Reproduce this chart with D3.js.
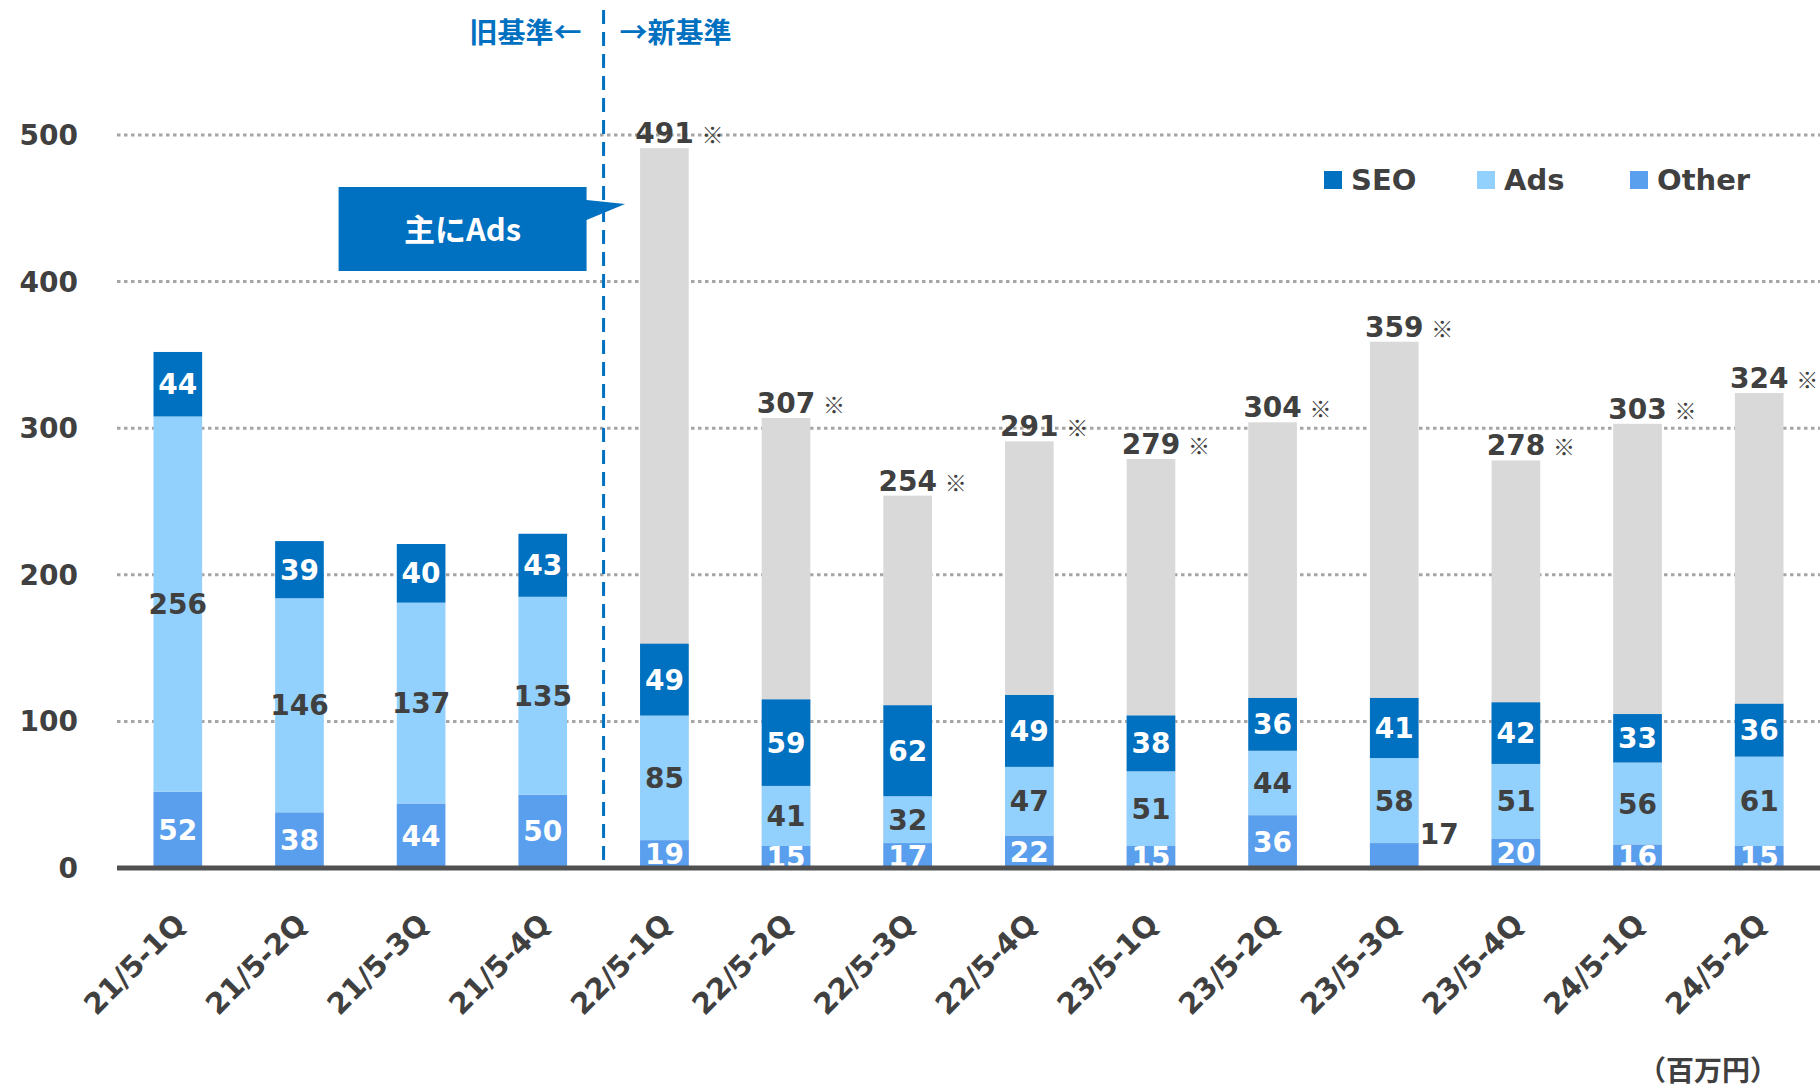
<!DOCTYPE html>
<html>
<head>
<meta charset="utf-8">
<script src="https://cdn.jsdelivr.net/npm/d3@7"></script>
<style>
  body { margin: 0; background: #fff; }
  svg { display: block; }
  .num { font-family: "DejaVu Sans", Verdana, sans-serif; font-weight: bold; }
  .cjk { font-family: "Noto Sans CJK JP", sans-serif; }
</style>
</head>
<body>
<svg id="chart" width="1820" height="1088"></svg>
<script>
// quarters
var categories = ["21/5-1Q", "21/5-2Q", "21/5-3Q", "21/5-4Q", "22/5-1Q", "22/5-2Q", "22/5-3Q",
                  "22/5-4Q", "23/5-1Q", "23/5-2Q", "23/5-3Q", "23/5-4Q", "24/5-1Q", "24/5-2Q"];

// values (百万円)
var otherVals = [52, 38, 44, 50, 19, 15, 17, 22, 15, 36, 17, 20, 16, 15];
var adsVals   = [256, 146, 137, 135, 85, 41, 32, 47, 51, 44, 58, 51, 56, 61];
var seoVals   = [44, 39, 40, 43, 49, 59, 62, 49, 38, 36, 41, 42, 33, 36];
// new basis totals, shown as the grey bar
var totalVals = [null, null, null, null, 491, 307, 254, 291, 279, 304, 359, 278, 303, 324];

var yTicks = [0, 100, 200, 300, 400, 500];
var seriesNames = ["SEO", "Ads", "Other"];

var colors = {SEO: "#0070C0", Ads: "#92D0FD", Other: "#5A9EEE"};
var textDark = "#404040";

var svg = d3.select("#chart");

var x = d3.scaleBand()
    .domain(categories)
    .range([117, 1820])
    .paddingInner(0.6)
    .paddingOuter(0.3);

var y = d3.scaleLinear()
    .domain([0, 500])
    .range([868, 135]);

var rows = categories.map(function(c, i) {
  return {cat: c, Other: otherVals[i], Ads: adsVals[i], SEO: seoVals[i], total: totalVals[i]};
});

var stacked = d3.stack().keys(["Other", "Ads", "SEO"])(rows);

// gridlines
svg.append("g")
  .selectAll("line")
  .data(yTicks.filter(function(d) { return d > 0; }))
  .enter().append("line")
    .attr("x1", 117)
    .attr("x2", 1820)
    .attr("y1", function(d) { return y(d); })
    .attr("y2", function(d) { return y(d); })
    .attr("stroke", "#a5a5a5")
    .attr("stroke-width", 3)
    .attr("stroke-dasharray", "3.5,3.5");

// y labels
svg.append("g")
  .selectAll("text")
  .data(yTicks)
  .enter().append("text")
    .attr("class", "num")
    .attr("x", 78)
    .attr("y", function(d) { return y(d); })
    .attr("dy", "0.36em")
    .attr("text-anchor", "end")
    .attr("font-size", 28)
    .attr("fill", textDark)
    .text(function(d) { return d; });

// grey total bars
svg.append("g")
  .selectAll("rect")
  .data(rows.filter(function(d) { return d.total != null; }))
  .enter().append("rect")
    .attr("x", function(d) { return x(d.cat); })
    .attr("width", x.bandwidth())
    .attr("y", function(d) { return y(d.total); })
    .attr("height", function(d) { return y(0) - y(d.total); })
    .attr("fill", "#D9D9D9");

// stacked bars
var layer = svg.append("g")
  .selectAll("g")
  .data(stacked)
  .enter().append("g")
    .attr("fill", function(d) { return colors[d.key]; });

layer.selectAll("rect")
  .data(function(d) { return d; })
  .enter().append("rect")
    .attr("x", function(d) { return x(d.data.cat); })
    .attr("width", x.bandwidth())
    .attr("y", function(d) { return y(d[1]); })
    .attr("height", function(d) { return y(d[0]) - y(d[1]); });

// segment labels
var outsideOther = "23/5-3Q";
stacked.forEach(function(s) {
  svg.append("g")
    .selectAll("text")
    .data(s)
    .enter().append("text")
      .attr("class", "num")
      .attr("font-size", 28)
      .attr("text-anchor", "middle")
      .attr("dy", "0.36em")
      .attr("x", function(d) {
        var cx = x(d.data.cat) + x.bandwidth() / 2;
        if (s.key == "Other" && d.data.cat == outsideOther) return cx + 45;
        return cx;
      })
      .attr("y", function(d) {
        var v = (d[0] + d[1]) / 2;
        if (s.key == "Other" && d.data.cat == outsideOther) v = d[1] + 6;
        return y(v);
      })
      .attr("fill", function(d) {
        if (s.key == "Ads") return textDark;
        if (s.key == "Other" && d.data.cat == outsideOther) return textDark;
        return "#fff";
      })
      .text(function(d) { return d.data[s.key]; });
});

// total labels
var totalLbl = svg.append("g")
  .selectAll("g")
  .data(rows.filter(function(d) { return d.total != null; }))
  .enter().append("g")
    .attr("transform", function(d) {
      return "translate(" + (x(d.cat) + x.bandwidth() / 2) + "," + (y(d.total) - 5) + ")";
    });

totalLbl.append("text")
    .attr("class", "num")
    .attr("font-size", 28)
    .attr("text-anchor", "middle")
    .attr("fill", textDark)
    .text(function(d) { return d.total; });

totalLbl.append("text")
    .attr("class", "cjk")
    .attr("x", 37)
    .attr("font-size", 22)
    .attr("fill", textDark)
    .text("※");

// axis line
svg.append("line")
    .attr("x1", 117)
    .attr("x2", 1820)
    .attr("y1", y(0))
    .attr("y2", y(0))
    .attr("stroke", "#505050")
    .attr("stroke-width", 5);

// x labels
svg.append("g")
  .selectAll("text")
  .data(categories)
  .enter().append("text")
    .attr("class", "num")
    .attr("font-size", 29)
    .attr("fill", textDark)
    .attr("text-anchor", "end")
    .attr("transform", function(d) {
      return "translate(" + (x(d) + x.bandwidth() / 2 + 9) + ",926) rotate(-45)";
    })
    .text(function(d) { return d; });

// old / new basis divider
var divX = (x(categories[3]) + x.bandwidth() + x(categories[4])) / 2;
svg.append("line")
    .attr("x1", divX)
    .attr("x2", divX)
    .attr("y1", 10)
    .attr("y2", y(0))
    .attr("stroke", "#0070C0")
    .attr("stroke-width", 3)
    .attr("stroke-dasharray", "14,8");

svg.append("text")
    .attr("class", "cjk")
    .attr("x", divX - 22)
    .attr("y", 43)
    .attr("text-anchor", "end")
    .attr("font-size", 28)
    .attr("font-weight", "bold")
    .attr("fill", "#0070C0")
    .text("旧基準←");

svg.append("text")
    .attr("class", "cjk")
    .attr("x", divX + 16)
    .attr("y", 43)
    .attr("font-size", 28)
    .attr("font-weight", "bold")
    .attr("fill", "#0070C0")
    .text("→新基準");

// callout "主にAds"
var boxR = divX - 17, boxL = boxR - 248, boxT = 187, boxB = 271;
var tipX = x(categories[4]) - 15, tipY = y(453);
svg.append("path")
    .attr("d", "M" + boxL + "," + boxT + "H" + boxR + "V" + (boxT + 13) +
               "L" + tipX + "," + tipY + "L" + boxR + "," + (boxT + 33) +
               "V" + boxB + "H" + boxL + "Z")
    .attr("fill", "#0070C0");

svg.append("text")
    .attr("class", "cjk")
    .attr("x", (boxL + boxR) / 2)
    .attr("y", 241)
    .attr("text-anchor", "middle")
    .attr("font-size", 31)
    .attr("font-weight", "bold")
    .attr("fill", "#fff")
    .text("主にAds");

// legend
var legend = svg.append("g")
  .selectAll("g")
  .data(seriesNames)
  .enter().append("g")
    .attr("transform", function(d, i) { return "translate(" + (1324 + i * 153) + ",171)"; });

legend.append("rect")
    .attr("width", 18)
    .attr("height", 18)
    .attr("fill", function(d) { return colors[d]; });

legend.append("text")
    .attr("class", "num")
    .attr("x", 27)
    .attr("y", 9)
    .attr("dy", "0.36em")
    .attr("font-size", 29)
    .attr("fill", textDark)
    .text(function(d) { return d; });

// unit
svg.append("text")
    .attr("class", "cjk")
    .attr("x", 1778)
    .attr("y", 1081)
    .attr("text-anchor", "end")
    .attr("font-size", 28)
    .attr("font-weight", "bold")
    .attr("fill", textDark)
    .text("（百万円）");
</script>
</body>
</html>
